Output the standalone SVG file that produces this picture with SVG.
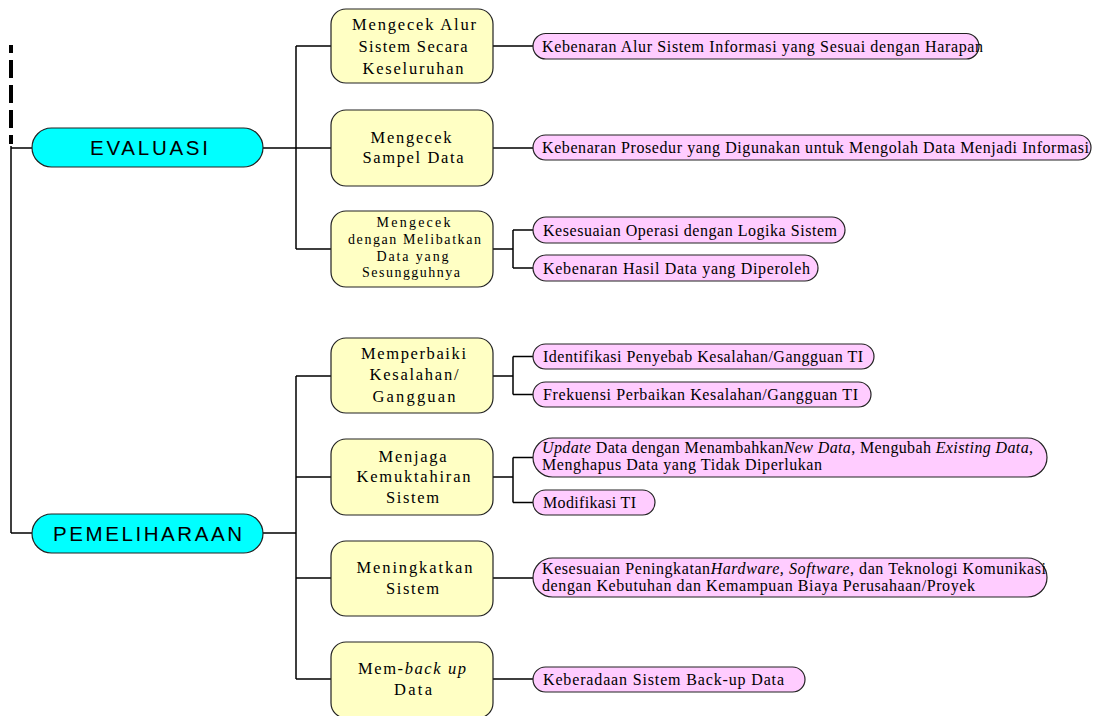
<svg xmlns="http://www.w3.org/2000/svg" width="1100" height="716" viewBox="0 0 1100 716">
<style>
.cy{fill:#00FFFF;stroke:#222;stroke-width:1.2}
.yb{fill:#FFFFC4;stroke:#222;stroke-width:1.2}
.pk{fill:#FFCCFF;stroke:#222;stroke-width:1.2}
.ct{font-family:"Liberation Sans",Arial,sans-serif;font-size:20.5px;fill:#000}
.bt{font-family:"Liberation Serif","Times New Roman",serif;font-size:16.5px;fill:#000;text-anchor:middle}
.bs{font-family:"Liberation Serif","Times New Roman",serif;font-size:14px;fill:#000;text-anchor:middle}
.pt{font-family:"Liberation Serif","Times New Roman",serif;font-size:16px;fill:#000}
.ln{fill:none;stroke:#000;stroke-width:1.5}
</style>
<rect width="1100" height="716" fill="#fff"/>
<g id="connectors">
<path d="M11 45 V144" fill="none" stroke="#000" stroke-width="4" stroke-dasharray="8 7 18 7 18 7 18 7 18 7"/>
<path class="ln" d="M11 146 V533 M11 148 H32 M11 533 H32"/>
<path class="ln" d="M263 148 H296 M296 46 V249 M296 46 H331 M296 148 H331 M296 249 H331"/>
<path class="ln" d="M493 46 H533 M493 148 H533"/>
<path class="ln" d="M493 249 H513 M513 230 V268 M513 230 H533 M513 268 H533"/>
<path class="ln" d="M263 533 H296 M296 376 V679 M296 376 H331 M296 477 H331 M296 578 H331 M296 679 H331"/>
<path class="ln" d="M493 376 H513 M513 356.5 V394.5 M513 356.5 H533 M513 394.5 H533"/>
<path class="ln" d="M493 477 H513 M513 457.5 V502.5 M513 457.5 H533 M513 502.5 H533"/>
<path class="ln" d="M493 578 H533 M493 679 H533"/>
</g>
<g id="evaluasi">
<rect class="cy" x="32" y="128" width="231" height="39" rx="19.5"/>
<text class="ct" x="90" y="155" textLength="118" lengthAdjust="spacing">EVALUASI</text>
</g>
<g id="pemeliharaan">
<rect class="cy" x="32" y="514" width="231" height="39" rx="19.5"/>
<text class="ct" x="53" y="541" textLength="189" lengthAdjust="spacing">PEMELIHARAAN</text>
</g>
<g id="e1">
<rect class="yb" x="331" y="9" width="162" height="74" rx="15"/>
<text class="bt" x="414" y="30" textLength="124" lengthAdjust="spacing">Mengecek Alur</text>
<text class="bt" x="413" y="52" textLength="109" lengthAdjust="spacing">Sistem Secara</text>
<text class="bt" x="413" y="74" textLength="101" lengthAdjust="spacing">Keseluruhan</text>
</g>
<g id="e2">
<rect class="yb" x="331" y="110" width="162" height="76" rx="15"/>
<text class="bt" x="411" y="143" textLength="81" lengthAdjust="spacing">Mengecek</text>
<text class="bt" x="413" y="163" textLength="101" lengthAdjust="spacing">Sampel Data</text>
</g>
<g id="e3">
<rect class="yb" x="331" y="211" width="162" height="76" rx="15"/>
<text class="bs" x="413.5" y="226.5" textLength="74" lengthAdjust="spacing">Mengecek</text>
<text class="bs" x="414.5" y="243.5" textLength="133" lengthAdjust="spacing">dengan Melibatkan</text>
<text class="bs" x="412.5" y="261" textLength="72" lengthAdjust="spacing">Data yang</text>
<text class="bs" x="411" y="277" textLength="98" lengthAdjust="spacing">Sesungguhnya</text>
</g>
<g id="p1">
<rect class="yb" x="331" y="338" width="162" height="75" rx="15"/>
<text class="bt" x="413.5" y="358.5" textLength="105" lengthAdjust="spacing">Memperbaiki</text>
<text class="bt" x="414" y="380" textLength="89" lengthAdjust="spacing">Kesalahan/</text>
<text class="bt" x="414" y="401.5" textLength="83" lengthAdjust="spacing">Gangguan</text>
</g>
<g id="p2">
<rect class="yb" x="331" y="439" width="162" height="76" rx="15"/>
<text class="bt" x="412.5" y="461.5" textLength="68" lengthAdjust="spacing">Menjaga</text>
<text class="bt" x="413.5" y="481.5" textLength="114" lengthAdjust="spacing">Kemuktahiran</text>
<text class="bt" x="412.5" y="502.5" textLength="53" lengthAdjust="spacing">Sistem</text>
</g>
<g id="p3">
<rect class="yb" x="331" y="541" width="162" height="75" rx="15"/>
<text class="bt" x="414.5" y="572.5" textLength="116" lengthAdjust="spacing">Meningkatkan</text>
<text class="bt" x="412.5" y="594" textLength="53" lengthAdjust="spacing">Sistem</text>
</g>
<g id="p4">
<rect class="yb" x="331" y="642" width="162" height="76" rx="15"/>
<text class="bt" x="412" y="674" textLength="108" lengthAdjust="spacing">Mem-<tspan font-style="italic">back up</tspan></text>
<text class="bt" x="413" y="695" textLength="38" lengthAdjust="spacing">Data</text>
</g>
<g id="n1">
<rect class="pk" x="533" y="33.5" width="446" height="25.5" rx="12.75"/>
<text class="pt" x="542" y="51.5" textLength="441" lengthAdjust="spacing">Kebenaran Alur Sistem Informasi yang Sesuai dengan Harapan</text>
</g>
<g id="n2">
<rect class="pk" x="533" y="135" width="558" height="25" rx="12.5"/>
<text class="pt" x="542" y="153" textLength="547" lengthAdjust="spacing">Kebenaran Prosedur yang Digunakan untuk Mengolah Data Menjadi Informasi</text>
</g>
<g id="n3">
<rect class="pk" x="533" y="217" width="312" height="26" rx="13"/>
<text class="pt" x="543" y="235.5" textLength="294" lengthAdjust="spacing">Kesesuaian Operasi dengan Logika Sistem</text>
</g>
<g id="n4">
<rect class="pk" x="533" y="255" width="285" height="26" rx="13"/>
<text class="pt" x="543" y="273.5" textLength="267" lengthAdjust="spacing">Kebenaran Hasil Data yang Diperoleh</text>
</g>
<g id="n5">
<rect class="pk" x="533" y="344" width="341" height="25" rx="12.5"/>
<text class="pt" x="543" y="361.5" textLength="320" lengthAdjust="spacing">Identifikasi Penyebab Kesalahan/Gangguan TI</text>
</g>
<g id="n6">
<rect class="pk" x="533" y="382" width="338" height="25" rx="12.5"/>
<text class="pt" x="543" y="399.5" textLength="315" lengthAdjust="spacing">Frekuensi Perbaikan Kesalahan/Gangguan TI</text>
</g>
<g id="n7">
<rect class="pk" x="533" y="438" width="514" height="39" rx="19.5"/>
<text class="pt" x="542" y="453" textLength="491" lengthAdjust="spacing"><tspan font-style="italic">Update</tspan> Data dengan Menambahkan<tspan font-style="italic">New Data</tspan>, Mengubah <tspan font-style="italic">Existing Data</tspan>,</text>
<text class="pt" x="542" y="470" textLength="280" lengthAdjust="spacing">Menghapus Data yang Tidak Diperlukan</text>
</g>
<g id="n8">
<rect class="pk" x="533" y="490" width="122" height="25" rx="12.5"/>
<text class="pt" x="543" y="507.5" textLength="93" lengthAdjust="spacing">Modifikasi TI</text>
</g>
<g id="n9">
<rect class="pk" x="533" y="558" width="514" height="39" rx="19.5"/>
<text class="pt" x="542" y="574" textLength="504" lengthAdjust="spacing">Kesesuaian Peningkatan<tspan font-style="italic">Hardware, Software</tspan>, dan Teknologi Komunikasi</text>
<text class="pt" x="542" y="591" textLength="433" lengthAdjust="spacing">dengan Kebutuhan dan Kemampuan Biaya Perusahaan/Proyek</text>
</g>
<g id="n10">
<rect class="pk" x="533" y="667" width="272" height="25" rx="12.5"/>
<text class="pt" x="543" y="684.5" textLength="241" lengthAdjust="spacing">Keberadaan Sistem Back-up Data</text>
</g>
</svg>
